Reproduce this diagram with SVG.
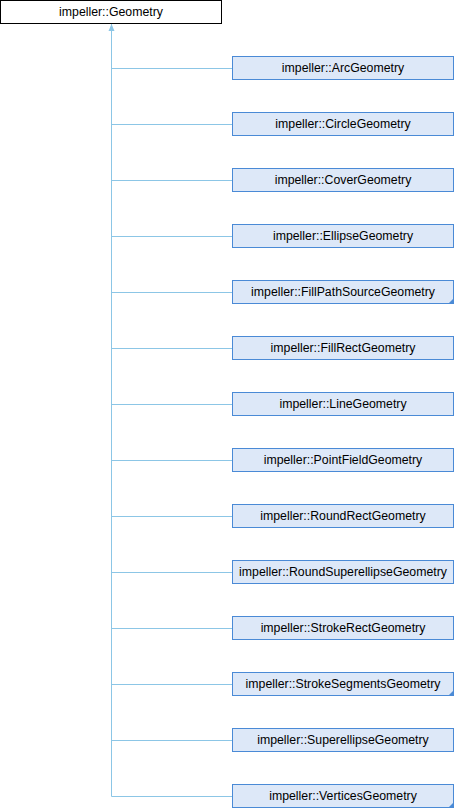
<svg xmlns="http://www.w3.org/2000/svg" width="454" height="808" viewBox="0 0 454 808">
<style>
text{font-family:"Liberation Sans",Arial,sans-serif;font-size:12.3px;fill:#000;text-anchor:middle}
.root{fill:#fff;stroke:#000;stroke-width:1}
.child{fill:#dde8f8;stroke:#4a8ad6;stroke-width:1}
.edge{fill:none;stroke:#8cc6e6;stroke-width:1}
.tri{fill:#4a8ad6}
</style>
<defs>
<marker id="ah" markerWidth="8" markerHeight="8" refX="7" refY="4" orient="auto" markerUnits="userSpaceOnUse">
<path d="M0,1 L7,4 L0,7 Z" fill="#8cc6e6"/>
</marker>
</defs>
<rect width="454" height="808" fill="#fff"/>
<g id="connectors">
<path class="edge" d="M111.5,796.5 V24" marker-end="url(#ah)"/>
<path class="edge" d="M111.5,68.5 H232"/>
<path class="edge" d="M111.5,124.5 H232"/>
<path class="edge" d="M111.5,180.5 H232"/>
<path class="edge" d="M111.5,236.5 H232"/>
<path class="edge" d="M111.5,292.5 H232"/>
<path class="edge" d="M111.5,348.5 H232"/>
<path class="edge" d="M111.5,404.5 H232"/>
<path class="edge" d="M111.5,460.5 H232"/>
<path class="edge" d="M111.5,516.5 H232"/>
<path class="edge" d="M111.5,572.5 H232"/>
<path class="edge" d="M111.5,628.5 H232"/>
<path class="edge" d="M111.5,684.5 H232"/>
<path class="edge" d="M111.5,740.5 H232"/>
<path class="edge" d="M111.5,796.5 H232"/>
</g>
<g id="Geometry"><rect class="root" x="0.5" y="0.5" width="221" height="23"/><text x="111" y="15.5">impeller::Geometry</text></g>
<g id="ArcGeometry"><rect class="child" x="232.5" y="56.5" width="221" height="23"/><text x="343" y="71.5">impeller::ArcGeometry</text></g>
<g id="CircleGeometry"><rect class="child" x="232.5" y="112.5" width="221" height="23"/><text x="343" y="127.5">impeller::CircleGeometry</text></g>
<g id="CoverGeometry"><rect class="child" x="232.5" y="168.5" width="221" height="23"/><text x="343" y="183.5">impeller::CoverGeometry</text></g>
<g id="EllipseGeometry"><rect class="child" x="232.5" y="224.5" width="221" height="23"/><text x="343" y="239.5">impeller::EllipseGeometry</text></g>
<g id="FillPathSourceGeometry"><rect class="child" x="232.5" y="280.5" width="221" height="23"/><path class="tri" d="M454,298 V304 H448 Z"/><text x="343" y="295.5">impeller::FillPathSourceGeometry</text></g>
<g id="FillRectGeometry"><rect class="child" x="232.5" y="336.5" width="221" height="23"/><text x="343" y="351.5">impeller::FillRectGeometry</text></g>
<g id="LineGeometry"><rect class="child" x="232.5" y="392.5" width="221" height="23"/><text x="343" y="407.5">impeller::LineGeometry</text></g>
<g id="PointFieldGeometry"><rect class="child" x="232.5" y="448.5" width="221" height="23"/><text x="343" y="463.5">impeller::PointFieldGeometry</text></g>
<g id="RoundRectGeometry"><rect class="child" x="232.5" y="504.5" width="221" height="23"/><text x="343" y="519.5">impeller::RoundRectGeometry</text></g>
<g id="RoundSuperellipseGeometry"><rect class="child" x="232.5" y="560.5" width="221" height="23"/><text x="343" y="575.5">impeller::RoundSuperellipseGeometry</text></g>
<g id="StrokeRectGeometry"><rect class="child" x="232.5" y="616.5" width="221" height="23"/><text x="343" y="631.5">impeller::StrokeRectGeometry</text></g>
<g id="StrokeSegmentsGeometry"><rect class="child" x="232.5" y="672.5" width="221" height="23"/><path class="tri" d="M454,690 V696 H448 Z"/><text x="343" y="687.5">impeller::StrokeSegmentsGeometry</text></g>
<g id="SuperellipseGeometry"><rect class="child" x="232.5" y="728.5" width="221" height="23"/><text x="343" y="743.5">impeller::SuperellipseGeometry</text></g>
<g id="VerticesGeometry"><rect class="child" x="232.5" y="784.5" width="221" height="23"/><path class="tri" d="M454,802 V808 H448 Z"/><text x="343" y="799.5">impeller::VerticesGeometry</text></g>
</svg>
